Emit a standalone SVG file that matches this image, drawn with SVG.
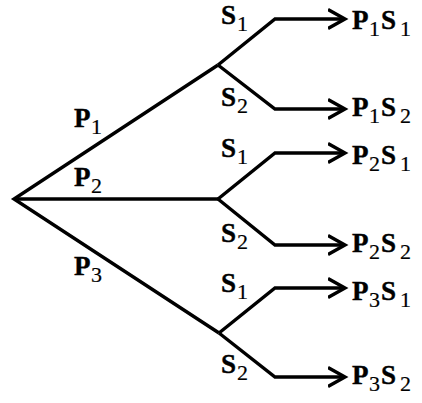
<svg xmlns="http://www.w3.org/2000/svg" width="422" height="403" viewBox="0 0 422 403">
<style>
.e{fill:none;stroke:#000;stroke-width:3.4;stroke-linejoin:miter}
.t{font-family:"Liberation Serif","Times New Roman",Times,serif;font-weight:bold;font-size:27px;fill:#000;stroke:#000;stroke-width:0.4}
.s{font-weight:normal;font-size:22px;stroke-width:0.2}
</style>
<defs>
<marker id="arr" markerUnits="userSpaceOnUse" viewBox="0 0 22 22" markerWidth="22" markerHeight="22" refX="17" refY="11" orient="auto">
<path d="M0,1.5 L17,11 L0,20.5" fill="none" stroke="#000" stroke-width="3.4"/>
</marker>
</defs>
<rect width="422" height="403" fill="#fff"/>
<g id="connectors">
<path class="e" d="M218,65 L14,199 L219,333"/>
<path class="e" d="M14,199 H218"/>
<path class="e" d="M218,65 L275,19 H345" marker-end="url(#arr)"/>
<path class="e" d="M218,65 L275,109 H345" marker-end="url(#arr)"/>
<path class="e" d="M218,199 L275,153 H345" marker-end="url(#arr)"/>
<path class="e" d="M218,199 L275,245 H345" marker-end="url(#arr)"/>
<path class="e" d="M219,333 L275,288 H345" marker-end="url(#arr)"/>
<path class="e" d="M219,333 L275,377 H345" marker-end="url(#arr)"/>
</g>
<g id="branch-labels">
<text class="t" x="74" y="127">P<tspan class="s" x="91" dy="7">1</tspan></text>
<text class="t" x="74" y="186">P<tspan class="s" x="91" dy="7">2</tspan></text>
<text class="t" x="74" y="275">P<tspan class="s" x="91" dy="7">3</tspan></text>
<text class="t" x="221" y="24">S<tspan class="s" x="237" dy="7">1</tspan></text>
<text class="t" x="221" y="106">S<tspan class="s" x="237" dy="7">2</tspan></text>
<text class="t" x="221" y="157">S<tspan class="s" x="237" dy="7">1</tspan></text>
<text class="t" x="221" y="242">S<tspan class="s" x="237" dy="7">2</tspan></text>
<text class="t" x="221" y="292">S<tspan class="s" x="237" dy="7">1</tspan></text>
<text class="t" x="221" y="373">S<tspan class="s" x="237" dy="7">2</tspan></text>
</g>
<g id="node-P1S1"><text class="t" x="352" y="29">P<tspan class="s" x="369" dy="7">1</tspan><tspan x="381" dy="-7">S</tspan><tspan class="s" x="400" dy="7">1</tspan></text></g>
<g id="node-P1S2"><text class="t" x="352" y="116">P<tspan class="s" x="369" dy="7">1</tspan><tspan x="381" dy="-7">S</tspan><tspan class="s" x="400" dy="7">2</tspan></text></g>
<g id="node-P2S1"><text class="t" x="352" y="164">P<tspan class="s" x="369" dy="7">2</tspan><tspan x="381" dy="-7">S</tspan><tspan class="s" x="400" dy="7">1</tspan></text></g>
<g id="node-P2S2"><text class="t" x="352" y="252">P<tspan class="s" x="369" dy="7">2</tspan><tspan x="381" dy="-7">S</tspan><tspan class="s" x="400" dy="7">2</tspan></text></g>
<g id="node-P3S1"><text class="t" x="352" y="300">P<tspan class="s" x="369" dy="7">3</tspan><tspan x="381" dy="-7">S</tspan><tspan class="s" x="400" dy="7">1</tspan></text></g>
<g id="node-P3S2"><text class="t" x="352" y="384">P<tspan class="s" x="369" dy="7">3</tspan><tspan x="381" dy="-7">S</tspan><tspan class="s" x="400" dy="7">2</tspan></text></g>
</svg>
